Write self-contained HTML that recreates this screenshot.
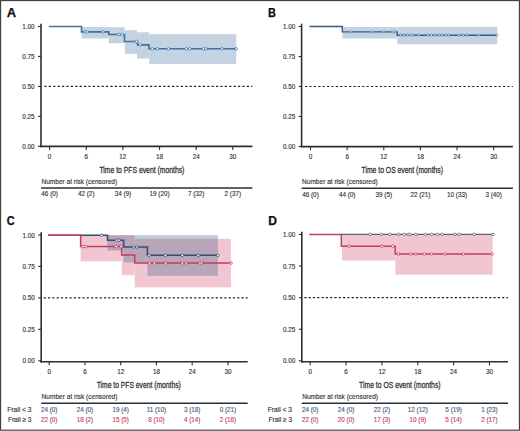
<!DOCTYPE html><html><head><meta charset="utf-8"><style>html,body{margin:0;padding:0;background:#fff}svg{display:block}text{font-family:"Liberation Sans", sans-serif}</style></head><body>
<svg width="520" height="431" viewBox="0 0 520 431">
<rect x="0" y="0" width="520" height="431" fill="#fff"/>
<rect x="81.50" y="27.00" width="27.30" height="11.50" fill="#c4d3e1"/>
<rect x="108.80" y="27.20" width="16.00" height="16.10" fill="#c4d3e1"/>
<rect x="124.80" y="30.20" width="12.20" height="23.60" fill="#c4d3e1"/>
<rect x="137.00" y="32.30" width="12.20" height="26.20" fill="#c4d3e1"/>
<rect x="149.20" y="34.20" width="87.00" height="29.70" fill="#c4d3e1"/>
<path d="M48.80,26.50 H81.50 V31.90 H108.80 V34.50 H124.50 V41.50 H137.50 V44.90 H149.00 V48.80 H236.20" fill="none" stroke="#44709a" stroke-width="1.6" stroke-linejoin="miter"/>
<circle cx="85.00" cy="31.90" r="1.3" fill="#fff" stroke="#44709a" stroke-width="0.75"/>
<circle cx="87.20" cy="31.90" r="1.3" fill="#fff" stroke="#44709a" stroke-width="0.75"/>
<circle cx="103.00" cy="31.90" r="1.3" fill="#fff" stroke="#44709a" stroke-width="0.75"/>
<circle cx="118.70" cy="34.50" r="1.3" fill="#fff" stroke="#44709a" stroke-width="0.75"/>
<circle cx="122.30" cy="34.50" r="1.3" fill="#fff" stroke="#44709a" stroke-width="0.75"/>
<circle cx="136.40" cy="41.50" r="1.3" fill="#fff" stroke="#44709a" stroke-width="0.75"/>
<circle cx="140.20" cy="44.90" r="1.3" fill="#fff" stroke="#44709a" stroke-width="0.75"/>
<circle cx="152.20" cy="48.80" r="1.3" fill="#fff" stroke="#44709a" stroke-width="0.75"/>
<circle cx="157.40" cy="48.80" r="1.3" fill="#fff" stroke="#44709a" stroke-width="0.75"/>
<circle cx="168.40" cy="48.80" r="1.3" fill="#fff" stroke="#44709a" stroke-width="0.75"/>
<circle cx="186.40" cy="48.80" r="1.3" fill="#fff" stroke="#44709a" stroke-width="0.75"/>
<circle cx="189.80" cy="48.80" r="1.3" fill="#fff" stroke="#44709a" stroke-width="0.75"/>
<circle cx="203.30" cy="48.80" r="1.3" fill="#fff" stroke="#44709a" stroke-width="0.75"/>
<circle cx="205.90" cy="48.80" r="1.3" fill="#fff" stroke="#44709a" stroke-width="0.75"/>
<circle cx="222.10" cy="48.80" r="1.3" fill="#fff" stroke="#44709a" stroke-width="0.75"/>
<circle cx="236.20" cy="48.80" r="1.3" fill="#fff" stroke="#44709a" stroke-width="0.75"/>
<text x="6.70" y="16.9" font-size="12" font-weight="bold" fill="#111" stroke="#111" stroke-width="0.25" textLength="9.40" lengthAdjust="spacingAndGlyphs">A</text>
<line x1="41.0" y1="23.70" x2="41.0" y2="147.20" stroke="#2e2e2e" stroke-width="1.6"/>
<line x1="40.20" y1="146.40" x2="252.40" y2="146.40" stroke="#2e2e2e" stroke-width="1.6"/>
<line x1="38.00" y1="26.50" x2="41.0" y2="26.50" stroke="#2e2e2e" stroke-width="1.1"/>
<text x="34.60" y="29.00" font-size="7.2" fill="#333" stroke="#333" stroke-width="0.15" text-anchor="end" textLength="12.30" lengthAdjust="spacingAndGlyphs">1.00</text>
<line x1="38.00" y1="56.45" x2="41.0" y2="56.45" stroke="#2e2e2e" stroke-width="1.1"/>
<text x="34.60" y="58.95" font-size="7.2" fill="#333" stroke="#333" stroke-width="0.15" text-anchor="end" textLength="12.30" lengthAdjust="spacingAndGlyphs">0.75</text>
<line x1="38.00" y1="86.40" x2="41.0" y2="86.40" stroke="#2e2e2e" stroke-width="1.1"/>
<text x="34.60" y="88.90" font-size="7.2" fill="#333" stroke="#333" stroke-width="0.15" text-anchor="end" textLength="12.30" lengthAdjust="spacingAndGlyphs">0.50</text>
<line x1="38.00" y1="116.35" x2="41.0" y2="116.35" stroke="#2e2e2e" stroke-width="1.1"/>
<text x="34.60" y="118.85" font-size="7.2" fill="#333" stroke="#333" stroke-width="0.15" text-anchor="end" textLength="12.30" lengthAdjust="spacingAndGlyphs">0.25</text>
<line x1="38.00" y1="146.30" x2="41.0" y2="146.30" stroke="#2e2e2e" stroke-width="1.1"/>
<text x="34.60" y="148.80" font-size="7.2" fill="#333" stroke="#333" stroke-width="0.15" text-anchor="end" textLength="12.30" lengthAdjust="spacingAndGlyphs">0.00</text>
<line x1="49.60" y1="146.40" x2="49.60" y2="150.00" stroke="#2e2e2e" stroke-width="1.1"/>
<text x="49.60" y="159.00" font-size="7.2" fill="#333" stroke="#333" stroke-width="0.15" text-anchor="middle" textLength="3.51" lengthAdjust="spacingAndGlyphs">0</text>
<line x1="86.24" y1="146.40" x2="86.24" y2="150.00" stroke="#2e2e2e" stroke-width="1.1"/>
<text x="86.24" y="159.00" font-size="7.2" fill="#333" stroke="#333" stroke-width="0.15" text-anchor="middle" textLength="3.51" lengthAdjust="spacingAndGlyphs">6</text>
<line x1="122.88" y1="146.40" x2="122.88" y2="150.00" stroke="#2e2e2e" stroke-width="1.1"/>
<text x="122.88" y="159.00" font-size="7.2" fill="#333" stroke="#333" stroke-width="0.15" text-anchor="middle" textLength="7.03" lengthAdjust="spacingAndGlyphs">12</text>
<line x1="159.53" y1="146.40" x2="159.53" y2="150.00" stroke="#2e2e2e" stroke-width="1.1"/>
<text x="159.53" y="159.00" font-size="7.2" fill="#333" stroke="#333" stroke-width="0.15" text-anchor="middle" textLength="7.03" lengthAdjust="spacingAndGlyphs">18</text>
<line x1="196.17" y1="146.40" x2="196.17" y2="150.00" stroke="#2e2e2e" stroke-width="1.1"/>
<text x="196.17" y="159.00" font-size="7.2" fill="#333" stroke="#333" stroke-width="0.15" text-anchor="middle" textLength="7.03" lengthAdjust="spacingAndGlyphs">24</text>
<line x1="232.81" y1="146.40" x2="232.81" y2="150.00" stroke="#2e2e2e" stroke-width="1.1"/>
<text x="232.81" y="159.00" font-size="7.2" fill="#333" stroke="#333" stroke-width="0.15" text-anchor="middle" textLength="7.03" lengthAdjust="spacingAndGlyphs">30</text>
<line x1="44.40" y1="86.40" x2="252.40" y2="86.40" stroke="#222" stroke-width="1.15" stroke-dasharray="2.2 2.2"/>
<text x="99.40" y="172.90" font-size="9.4" fill="#333" stroke="#333" stroke-width="0.3" textLength="85.00" lengthAdjust="spacingAndGlyphs">Time to PFS event (months)</text>
<text x="41.40" y="184.20" font-size="7.2" fill="#333" stroke="#333" stroke-width="0.15" textLength="75.80" lengthAdjust="spacingAndGlyphs">Number at risk (censored)</text>
<line x1="41.00" y1="188.00" x2="252.40" y2="188.00" stroke="#2e2e2e" stroke-width="1.4"/>
<text x="49.60" y="196.30" font-size="7.2" fill="#333" stroke="#333" stroke-width="0.15" text-anchor="middle" textLength="16.51" lengthAdjust="spacingAndGlyphs">46 (0)</text>
<text x="86.24" y="196.30" font-size="7.2" fill="#333" stroke="#333" stroke-width="0.15" text-anchor="middle" textLength="16.51" lengthAdjust="spacingAndGlyphs">42 (2)</text>
<text x="122.88" y="196.30" font-size="7.2" fill="#333" stroke="#333" stroke-width="0.15" text-anchor="middle" textLength="16.51" lengthAdjust="spacingAndGlyphs">34 (9)</text>
<text x="159.53" y="196.30" font-size="7.2" fill="#333" stroke="#333" stroke-width="0.15" text-anchor="middle" textLength="20.02" lengthAdjust="spacingAndGlyphs">19 (20)</text>
<text x="196.17" y="196.30" font-size="7.2" fill="#333" stroke="#333" stroke-width="0.15" text-anchor="middle" textLength="16.51" lengthAdjust="spacingAndGlyphs">7 (32)</text>
<text x="232.81" y="196.30" font-size="7.2" fill="#333" stroke="#333" stroke-width="0.15" text-anchor="middle" textLength="16.51" lengthAdjust="spacingAndGlyphs">2 (37)</text>
<rect x="342.40" y="27.00" width="54.90" height="11.50" fill="#c4d3e1"/>
<rect x="397.30" y="27.00" width="100.00" height="17.30" fill="#c4d3e1"/>
<path d="M309.40,26.50 H342.30 V31.90 H397.30 V35.20 H497.00" fill="none" stroke="#375c84" stroke-width="1.35" stroke-linejoin="miter"/>
<circle cx="350.80" cy="31.90" r="1.15" fill="#fff" stroke="#44709a" stroke-width="0.7"/>
<circle cx="371.70" cy="31.90" r="1.15" fill="#fff" stroke="#44709a" stroke-width="0.7"/>
<circle cx="383.80" cy="31.90" r="1.15" fill="#fff" stroke="#44709a" stroke-width="0.7"/>
<circle cx="392.30" cy="31.90" r="1.15" fill="#fff" stroke="#44709a" stroke-width="0.7"/>
<circle cx="395.00" cy="31.90" r="1.15" fill="#fff" stroke="#44709a" stroke-width="0.7"/>
<circle cx="400.80" cy="35.20" r="1.1" fill="#fff" stroke="#44709a" stroke-width="0.7"/>
<circle cx="403.90" cy="35.20" r="1.1" fill="#fff" stroke="#44709a" stroke-width="0.7"/>
<circle cx="407.10" cy="35.20" r="1.1" fill="#fff" stroke="#44709a" stroke-width="0.7"/>
<circle cx="410.30" cy="35.20" r="1.1" fill="#fff" stroke="#44709a" stroke-width="0.7"/>
<circle cx="413.00" cy="35.20" r="1.1" fill="#fff" stroke="#44709a" stroke-width="0.7"/>
<circle cx="418.50" cy="35.20" r="1.1" fill="#fff" stroke="#44709a" stroke-width="0.7"/>
<circle cx="428.10" cy="35.20" r="1.1" fill="#fff" stroke="#44709a" stroke-width="0.7"/>
<circle cx="431.50" cy="35.20" r="1.1" fill="#fff" stroke="#44709a" stroke-width="0.7"/>
<circle cx="435.30" cy="35.20" r="1.1" fill="#fff" stroke="#44709a" stroke-width="0.7"/>
<circle cx="439.00" cy="35.20" r="1.1" fill="#fff" stroke="#44709a" stroke-width="0.7"/>
<circle cx="442.00" cy="35.20" r="1.1" fill="#fff" stroke="#44709a" stroke-width="0.7"/>
<circle cx="445.40" cy="35.20" r="1.1" fill="#fff" stroke="#44709a" stroke-width="0.7"/>
<circle cx="448.30" cy="35.20" r="1.1" fill="#fff" stroke="#44709a" stroke-width="0.7"/>
<circle cx="459.20" cy="35.20" r="1.1" fill="#fff" stroke="#44709a" stroke-width="0.7"/>
<circle cx="463.30" cy="35.20" r="1.1" fill="#fff" stroke="#44709a" stroke-width="0.7"/>
<circle cx="467.30" cy="35.20" r="1.1" fill="#fff" stroke="#44709a" stroke-width="0.7"/>
<circle cx="478.30" cy="35.20" r="1.1" fill="#fff" stroke="#44709a" stroke-width="0.7"/>
<circle cx="496.80" cy="35.20" r="1.1" fill="#fff" stroke="#44709a" stroke-width="0.7"/>
<text x="268.00" y="16.8" font-size="12" font-weight="bold" fill="#111" stroke="#111" stroke-width="0.25" textLength="7.90" lengthAdjust="spacingAndGlyphs">B</text>
<line x1="301.6" y1="23.70" x2="301.6" y2="147.40" stroke="#2e2e2e" stroke-width="1.6"/>
<line x1="300.80" y1="146.60" x2="512.90" y2="146.60" stroke="#2e2e2e" stroke-width="1.6"/>
<line x1="298.60" y1="26.50" x2="301.6" y2="26.50" stroke="#2e2e2e" stroke-width="1.1"/>
<text x="295.20" y="29.00" font-size="7.2" fill="#333" stroke="#333" stroke-width="0.15" text-anchor="end" textLength="12.30" lengthAdjust="spacingAndGlyphs">1.00</text>
<line x1="298.60" y1="56.50" x2="301.6" y2="56.50" stroke="#2e2e2e" stroke-width="1.1"/>
<text x="295.20" y="59.00" font-size="7.2" fill="#333" stroke="#333" stroke-width="0.15" text-anchor="end" textLength="12.30" lengthAdjust="spacingAndGlyphs">0.75</text>
<line x1="298.60" y1="86.50" x2="301.6" y2="86.50" stroke="#2e2e2e" stroke-width="1.1"/>
<text x="295.20" y="89.00" font-size="7.2" fill="#333" stroke="#333" stroke-width="0.15" text-anchor="end" textLength="12.30" lengthAdjust="spacingAndGlyphs">0.50</text>
<line x1="298.60" y1="116.50" x2="301.6" y2="116.50" stroke="#2e2e2e" stroke-width="1.1"/>
<text x="295.20" y="119.00" font-size="7.2" fill="#333" stroke="#333" stroke-width="0.15" text-anchor="end" textLength="12.30" lengthAdjust="spacingAndGlyphs">0.25</text>
<line x1="298.60" y1="146.50" x2="301.6" y2="146.50" stroke="#2e2e2e" stroke-width="1.1"/>
<text x="295.20" y="149.00" font-size="7.2" fill="#333" stroke="#333" stroke-width="0.15" text-anchor="end" textLength="12.30" lengthAdjust="spacingAndGlyphs">0.00</text>
<line x1="310.50" y1="146.60" x2="310.50" y2="150.20" stroke="#2e2e2e" stroke-width="1.1"/>
<text x="310.50" y="159.20" font-size="7.2" fill="#333" stroke="#333" stroke-width="0.15" text-anchor="middle" textLength="3.51" lengthAdjust="spacingAndGlyphs">0</text>
<line x1="347.14" y1="146.60" x2="347.14" y2="150.20" stroke="#2e2e2e" stroke-width="1.1"/>
<text x="347.14" y="159.20" font-size="7.2" fill="#333" stroke="#333" stroke-width="0.15" text-anchor="middle" textLength="3.51" lengthAdjust="spacingAndGlyphs">6</text>
<line x1="383.78" y1="146.60" x2="383.78" y2="150.20" stroke="#2e2e2e" stroke-width="1.1"/>
<text x="383.78" y="159.20" font-size="7.2" fill="#333" stroke="#333" stroke-width="0.15" text-anchor="middle" textLength="7.03" lengthAdjust="spacingAndGlyphs">12</text>
<line x1="420.43" y1="146.60" x2="420.43" y2="150.20" stroke="#2e2e2e" stroke-width="1.1"/>
<text x="420.43" y="159.20" font-size="7.2" fill="#333" stroke="#333" stroke-width="0.15" text-anchor="middle" textLength="7.03" lengthAdjust="spacingAndGlyphs">18</text>
<line x1="457.07" y1="146.60" x2="457.07" y2="150.20" stroke="#2e2e2e" stroke-width="1.1"/>
<text x="457.07" y="159.20" font-size="7.2" fill="#333" stroke="#333" stroke-width="0.15" text-anchor="middle" textLength="7.03" lengthAdjust="spacingAndGlyphs">24</text>
<line x1="493.71" y1="146.60" x2="493.71" y2="150.20" stroke="#2e2e2e" stroke-width="1.1"/>
<text x="493.71" y="159.20" font-size="7.2" fill="#333" stroke="#333" stroke-width="0.15" text-anchor="middle" textLength="7.03" lengthAdjust="spacingAndGlyphs">30</text>
<line x1="305.00" y1="86.50" x2="512.90" y2="86.50" stroke="#222" stroke-width="1.15" stroke-dasharray="2.2 2.2"/>
<text x="361.50" y="172.70" font-size="9.4" fill="#333" stroke="#333" stroke-width="0.3" textLength="81.50" lengthAdjust="spacingAndGlyphs">Time to OS event (months)</text>
<text x="302.00" y="184.40" font-size="7.2" fill="#333" stroke="#333" stroke-width="0.15" textLength="75.80" lengthAdjust="spacingAndGlyphs">Number at risk (censored)</text>
<line x1="301.60" y1="188.20" x2="512.90" y2="188.20" stroke="#2e2e2e" stroke-width="1.4"/>
<text x="310.50" y="196.50" font-size="7.2" fill="#333" stroke="#333" stroke-width="0.15" text-anchor="middle" textLength="16.51" lengthAdjust="spacingAndGlyphs">46 (0)</text>
<text x="347.14" y="196.50" font-size="7.2" fill="#333" stroke="#333" stroke-width="0.15" text-anchor="middle" textLength="16.51" lengthAdjust="spacingAndGlyphs">44 (0)</text>
<text x="383.78" y="196.50" font-size="7.2" fill="#333" stroke="#333" stroke-width="0.15" text-anchor="middle" textLength="16.51" lengthAdjust="spacingAndGlyphs">39 (5)</text>
<text x="420.43" y="196.50" font-size="7.2" fill="#333" stroke="#333" stroke-width="0.15" text-anchor="middle" textLength="20.02" lengthAdjust="spacingAndGlyphs">22 (21)</text>
<text x="457.07" y="196.50" font-size="7.2" fill="#333" stroke="#333" stroke-width="0.15" text-anchor="middle" textLength="20.02" lengthAdjust="spacingAndGlyphs">10 (33)</text>
<text x="493.71" y="196.50" font-size="7.2" fill="#333" stroke="#333" stroke-width="0.15" text-anchor="middle" textLength="16.51" lengthAdjust="spacingAndGlyphs">3 (40)</text>
<rect x="80.60" y="235.20" width="41.10" height="26.10" fill="#f1c6d0"/>
<rect x="121.70" y="235.20" width="13.00" height="40.00" fill="#f1c6d0"/>
<rect x="134.70" y="238.80" width="96.30" height="48.60" fill="#f1c6d0"/>
<rect x="107.50" y="235.20" width="16.10" height="15.30" fill="rgba(72,102,140,0.34)"/>
<rect x="123.60" y="235.20" width="23.80" height="27.30" fill="rgba(72,102,140,0.34)"/>
<rect x="147.40" y="235.20" width="70.50" height="40.60" fill="rgba(72,102,140,0.34)"/>
<path d="M48.00,235.20 H107.50 V240.20 H123.60 V247.00 H147.40 V255.30 H217.90" fill="none" stroke="#3b4d6e" stroke-width="1.6" stroke-linejoin="miter"/>
<circle cx="101.50" cy="235.20" r="1.3" fill="#fff" stroke="#3b4d6e" stroke-width="0.75"/>
<circle cx="116.60" cy="240.20" r="1.3" fill="#fff" stroke="#3b4d6e" stroke-width="0.75"/>
<circle cx="118.90" cy="240.20" r="1.3" fill="#fff" stroke="#3b4d6e" stroke-width="0.75"/>
<circle cx="133.80" cy="247.00" r="1.3" fill="#fff" stroke="#3b4d6e" stroke-width="0.75"/>
<circle cx="137.00" cy="247.00" r="1.3" fill="#fff" stroke="#3b4d6e" stroke-width="0.75"/>
<circle cx="149.10" cy="255.30" r="1.3" fill="#fff" stroke="#3b4d6e" stroke-width="0.75"/>
<circle cx="165.40" cy="255.30" r="1.3" fill="#fff" stroke="#3b4d6e" stroke-width="0.75"/>
<circle cx="182.30" cy="255.30" r="1.3" fill="#fff" stroke="#3b4d6e" stroke-width="0.75"/>
<circle cx="198.20" cy="255.30" r="1.3" fill="#fff" stroke="#3b4d6e" stroke-width="0.75"/>
<circle cx="217.90" cy="255.30" r="1.3" fill="#fff" stroke="#3b4d6e" stroke-width="0.75"/>
<path d="M48.00,235.20 H80.60 V246.60 H121.70 V254.90 H134.70 V263.00 H231.00" fill="none" stroke="#c23c5e" stroke-width="1.5" stroke-linejoin="miter"/>
<circle cx="83.00" cy="246.60" r="1.3" fill="#fff" stroke="#c83a5c" stroke-width="0.75"/>
<circle cx="85.90" cy="246.60" r="1.3" fill="#fff" stroke="#c83a5c" stroke-width="0.75"/>
<circle cx="116.10" cy="246.60" r="1.3" fill="#fff" stroke="#c83a5c" stroke-width="0.75"/>
<circle cx="121.20" cy="246.60" r="1.3" fill="#fff" stroke="#c83a5c" stroke-width="0.75"/>
<circle cx="149.50" cy="263.00" r="1.3" fill="#fff" stroke="#c83a5c" stroke-width="0.75"/>
<circle cx="154.40" cy="263.00" r="1.3" fill="#fff" stroke="#c83a5c" stroke-width="0.75"/>
<circle cx="165.80" cy="263.00" r="1.3" fill="#fff" stroke="#c83a5c" stroke-width="0.75"/>
<circle cx="182.30" cy="263.00" r="1.3" fill="#fff" stroke="#c83a5c" stroke-width="0.75"/>
<circle cx="186.10" cy="263.00" r="1.3" fill="#fff" stroke="#c83a5c" stroke-width="0.75"/>
<circle cx="199.70" cy="263.00" r="1.3" fill="#fff" stroke="#c83a5c" stroke-width="0.75"/>
<circle cx="201.30" cy="263.00" r="1.3" fill="#fff" stroke="#c83a5c" stroke-width="0.75"/>
<circle cx="231.00" cy="263.00" r="1.3" fill="#fff" stroke="#c83a5c" stroke-width="0.75"/>
<text x="6.70" y="225.0" font-size="12" font-weight="bold" fill="#111" stroke="#111" stroke-width="0.25" textLength="7.90" lengthAdjust="spacingAndGlyphs">C</text>
<line x1="41.2" y1="232.20" x2="41.2" y2="362.55" stroke="#2e2e2e" stroke-width="1.6"/>
<line x1="40.40" y1="361.75" x2="247.70" y2="361.75" stroke="#2e2e2e" stroke-width="1.6"/>
<line x1="38.20" y1="235.00" x2="41.2" y2="235.00" stroke="#2e2e2e" stroke-width="1.1"/>
<text x="34.80" y="237.50" font-size="7.2" fill="#333" stroke="#333" stroke-width="0.15" text-anchor="end" textLength="12.30" lengthAdjust="spacingAndGlyphs">1.00</text>
<line x1="38.20" y1="266.45" x2="41.2" y2="266.45" stroke="#2e2e2e" stroke-width="1.1"/>
<text x="34.80" y="268.95" font-size="7.2" fill="#333" stroke="#333" stroke-width="0.15" text-anchor="end" textLength="12.30" lengthAdjust="spacingAndGlyphs">0.75</text>
<line x1="38.20" y1="297.90" x2="41.2" y2="297.90" stroke="#2e2e2e" stroke-width="1.1"/>
<text x="34.80" y="300.40" font-size="7.2" fill="#333" stroke="#333" stroke-width="0.15" text-anchor="end" textLength="12.30" lengthAdjust="spacingAndGlyphs">0.50</text>
<line x1="38.20" y1="329.35" x2="41.2" y2="329.35" stroke="#2e2e2e" stroke-width="1.1"/>
<text x="34.80" y="331.85" font-size="7.2" fill="#333" stroke="#333" stroke-width="0.15" text-anchor="end" textLength="12.30" lengthAdjust="spacingAndGlyphs">0.25</text>
<line x1="38.20" y1="360.80" x2="41.2" y2="360.80" stroke="#2e2e2e" stroke-width="1.1"/>
<text x="34.80" y="363.30" font-size="7.2" fill="#333" stroke="#333" stroke-width="0.15" text-anchor="end" textLength="12.30" lengthAdjust="spacingAndGlyphs">0.00</text>
<line x1="49.20" y1="361.75" x2="49.20" y2="365.35" stroke="#2e2e2e" stroke-width="1.1"/>
<text x="49.20" y="374.40" font-size="7.2" fill="#333" stroke="#333" stroke-width="0.15" text-anchor="middle" textLength="3.51" lengthAdjust="spacingAndGlyphs">0</text>
<line x1="84.95" y1="361.75" x2="84.95" y2="365.35" stroke="#2e2e2e" stroke-width="1.1"/>
<text x="84.95" y="374.40" font-size="7.2" fill="#333" stroke="#333" stroke-width="0.15" text-anchor="middle" textLength="3.51" lengthAdjust="spacingAndGlyphs">6</text>
<line x1="120.70" y1="361.75" x2="120.70" y2="365.35" stroke="#2e2e2e" stroke-width="1.1"/>
<text x="120.70" y="374.40" font-size="7.2" fill="#333" stroke="#333" stroke-width="0.15" text-anchor="middle" textLength="7.03" lengthAdjust="spacingAndGlyphs">12</text>
<line x1="156.44" y1="361.75" x2="156.44" y2="365.35" stroke="#2e2e2e" stroke-width="1.1"/>
<text x="156.44" y="374.40" font-size="7.2" fill="#333" stroke="#333" stroke-width="0.15" text-anchor="middle" textLength="7.03" lengthAdjust="spacingAndGlyphs">18</text>
<line x1="192.19" y1="361.75" x2="192.19" y2="365.35" stroke="#2e2e2e" stroke-width="1.1"/>
<text x="192.19" y="374.40" font-size="7.2" fill="#333" stroke="#333" stroke-width="0.15" text-anchor="middle" textLength="7.03" lengthAdjust="spacingAndGlyphs">24</text>
<line x1="227.94" y1="361.75" x2="227.94" y2="365.35" stroke="#2e2e2e" stroke-width="1.1"/>
<text x="227.94" y="374.40" font-size="7.2" fill="#333" stroke="#333" stroke-width="0.15" text-anchor="middle" textLength="7.03" lengthAdjust="spacingAndGlyphs">30</text>
<line x1="43.70" y1="297.90" x2="247.70" y2="297.90" stroke="#222" stroke-width="1.3" stroke-dasharray="2.2 2.1"/>
<text x="96.70" y="387.70" font-size="9.4" fill="#333" stroke="#333" stroke-width="0.3" textLength="84.10" lengthAdjust="spacingAndGlyphs">Time to PFS event (months)</text>
<text x="41.60" y="398.50" font-size="7.2" fill="#333" stroke="#333" stroke-width="0.15" textLength="75.80" lengthAdjust="spacingAndGlyphs">Number at risk (censored)</text>
<line x1="41.20" y1="403.30" x2="247.70" y2="403.30" stroke="#2e2e2e" stroke-width="1.4"/>
<text x="49.20" y="412.30" font-size="7.2" fill="#3d5a82" stroke="#3d5a82" stroke-width="0.15" text-anchor="middle" textLength="16.51" lengthAdjust="spacingAndGlyphs">24 (0)</text>
<text x="84.95" y="412.30" font-size="7.2" fill="#3d5a82" stroke="#3d5a82" stroke-width="0.15" text-anchor="middle" textLength="16.51" lengthAdjust="spacingAndGlyphs">24 (0)</text>
<text x="120.70" y="412.30" font-size="7.2" fill="#3d5a82" stroke="#3d5a82" stroke-width="0.15" text-anchor="middle" textLength="16.51" lengthAdjust="spacingAndGlyphs">19 (4)</text>
<text x="156.44" y="412.30" font-size="7.2" fill="#3d5a82" stroke="#3d5a82" stroke-width="0.15" text-anchor="middle" textLength="19.55" lengthAdjust="spacingAndGlyphs">11 (10)</text>
<text x="192.19" y="412.30" font-size="7.2" fill="#3d5a82" stroke="#3d5a82" stroke-width="0.15" text-anchor="middle" textLength="16.51" lengthAdjust="spacingAndGlyphs">3 (18)</text>
<text x="227.94" y="412.30" font-size="7.2" fill="#3d5a82" stroke="#3d5a82" stroke-width="0.15" text-anchor="middle" textLength="16.51" lengthAdjust="spacingAndGlyphs">0 (21)</text>
<text x="49.20" y="422.30" font-size="7.2" fill="#c2405f" stroke="#c2405f" stroke-width="0.15" text-anchor="middle" textLength="16.51" lengthAdjust="spacingAndGlyphs">22 (0)</text>
<text x="84.95" y="422.30" font-size="7.2" fill="#c2405f" stroke="#c2405f" stroke-width="0.15" text-anchor="middle" textLength="16.51" lengthAdjust="spacingAndGlyphs">18 (2)</text>
<text x="120.70" y="422.30" font-size="7.2" fill="#c2405f" stroke="#c2405f" stroke-width="0.15" text-anchor="middle" textLength="16.51" lengthAdjust="spacingAndGlyphs">15 (5)</text>
<text x="156.44" y="422.30" font-size="7.2" fill="#c2405f" stroke="#c2405f" stroke-width="0.15" text-anchor="middle" textLength="16.51" lengthAdjust="spacingAndGlyphs">8 (10)</text>
<text x="192.19" y="422.30" font-size="7.2" fill="#c2405f" stroke="#c2405f" stroke-width="0.15" text-anchor="middle" textLength="16.51" lengthAdjust="spacingAndGlyphs">4 (14)</text>
<text x="227.94" y="422.30" font-size="7.2" fill="#c2405f" stroke="#c2405f" stroke-width="0.15" text-anchor="middle" textLength="16.51" lengthAdjust="spacingAndGlyphs">2 (16)</text>
<text x="31.40" y="412.30" font-size="7.2" fill="#333" stroke="#333" stroke-width="0.15" text-anchor="end" textLength="24.20" lengthAdjust="spacingAndGlyphs">Frail &lt; 3</text>
<text x="31.40" y="422.30" font-size="7.2" fill="#333" stroke="#333" stroke-width="0.15" text-anchor="end" textLength="23.40" lengthAdjust="spacingAndGlyphs">Frail ≥ 3</text>
<rect x="342.00" y="234.40" width="53.30" height="26.10" fill="#f1c6d0"/>
<rect x="395.30" y="234.40" width="97.40" height="40.30" fill="#f1c6d0"/>
<path d="M309.20,234.40 H341.30 V246.20 H395.20 V254.00 H492.30" fill="none" stroke="#bf3f5e" stroke-width="1.45" stroke-linejoin="miter"/>
<circle cx="349.10" cy="246.20" r="1.3" fill="#fff" stroke="#c83a5c" stroke-width="0.75"/>
<circle cx="382.10" cy="246.20" r="1.3" fill="#fff" stroke="#c83a5c" stroke-width="0.75"/>
<circle cx="392.70" cy="246.20" r="1.3" fill="#fff" stroke="#c83a5c" stroke-width="0.75"/>
<circle cx="398.40" cy="254.00" r="1.3" fill="#fff" stroke="#c83a5c" stroke-width="0.75"/>
<circle cx="410.60" cy="254.00" r="1.3" fill="#fff" stroke="#c83a5c" stroke-width="0.75"/>
<circle cx="415.90" cy="254.00" r="1.3" fill="#fff" stroke="#c83a5c" stroke-width="0.75"/>
<circle cx="424.30" cy="254.00" r="1.3" fill="#fff" stroke="#c83a5c" stroke-width="0.75"/>
<circle cx="431.70" cy="254.00" r="1.3" fill="#fff" stroke="#c83a5c" stroke-width="0.75"/>
<circle cx="444.80" cy="254.00" r="1.3" fill="#fff" stroke="#c83a5c" stroke-width="0.75"/>
<circle cx="463.50" cy="254.00" r="1.3" fill="#fff" stroke="#c83a5c" stroke-width="0.75"/>
<circle cx="492.00" cy="254.00" r="1.3" fill="#fff" stroke="#c83a5c" stroke-width="0.75"/>
<path d="M341.3,234.4 H493" fill="none" stroke="#56607c" stroke-width="1.4"/>
<circle cx="370.20" cy="234.40" r="1.3" fill="#fff" stroke="#56607c" stroke-width="0.75"/>
<circle cx="381.40" cy="234.40" r="1.3" fill="#fff" stroke="#56607c" stroke-width="0.75"/>
<circle cx="389.90" cy="234.40" r="1.3" fill="#fff" stroke="#56607c" stroke-width="0.75"/>
<circle cx="398.40" cy="234.40" r="1.3" fill="#fff" stroke="#56607c" stroke-width="0.75"/>
<circle cx="404.40" cy="234.40" r="1.3" fill="#fff" stroke="#56607c" stroke-width="0.75"/>
<circle cx="408.50" cy="234.40" r="1.3" fill="#fff" stroke="#56607c" stroke-width="0.75"/>
<circle cx="410.20" cy="234.40" r="1.3" fill="#fff" stroke="#56607c" stroke-width="0.75"/>
<circle cx="415.90" cy="234.40" r="1.3" fill="#fff" stroke="#56607c" stroke-width="0.75"/>
<circle cx="425.40" cy="234.40" r="1.3" fill="#fff" stroke="#56607c" stroke-width="0.75"/>
<circle cx="431.70" cy="234.40" r="1.3" fill="#fff" stroke="#56607c" stroke-width="0.75"/>
<circle cx="437.70" cy="234.40" r="1.3" fill="#fff" stroke="#56607c" stroke-width="0.75"/>
<circle cx="442.30" cy="234.40" r="1.3" fill="#fff" stroke="#56607c" stroke-width="0.75"/>
<circle cx="455.00" cy="234.40" r="1.3" fill="#fff" stroke="#56607c" stroke-width="0.75"/>
<circle cx="459.20" cy="234.40" r="1.3" fill="#fff" stroke="#56607c" stroke-width="0.75"/>
<circle cx="474.00" cy="234.40" r="1.3" fill="#fff" stroke="#56607c" stroke-width="0.75"/>
<circle cx="493.00" cy="234.40" r="1.3" fill="#fff" stroke="#56607c" stroke-width="0.75"/>
<text x="268.30" y="225.0" font-size="12" font-weight="bold" fill="#111" stroke="#111" stroke-width="0.25" textLength="8.70" lengthAdjust="spacingAndGlyphs">D</text>
<line x1="301.8" y1="231.70" x2="301.8" y2="362.55" stroke="#2e2e2e" stroke-width="1.6"/>
<line x1="301.00" y1="361.75" x2="508.00" y2="361.75" stroke="#2e2e2e" stroke-width="1.6"/>
<line x1="298.80" y1="234.50" x2="301.8" y2="234.50" stroke="#2e2e2e" stroke-width="1.1"/>
<text x="295.40" y="237.00" font-size="7.2" fill="#333" stroke="#333" stroke-width="0.15" text-anchor="end" textLength="12.30" lengthAdjust="spacingAndGlyphs">1.00</text>
<line x1="298.80" y1="266.07" x2="301.8" y2="266.07" stroke="#2e2e2e" stroke-width="1.1"/>
<text x="295.40" y="268.57" font-size="7.2" fill="#333" stroke="#333" stroke-width="0.15" text-anchor="end" textLength="12.30" lengthAdjust="spacingAndGlyphs">0.75</text>
<line x1="298.80" y1="297.65" x2="301.8" y2="297.65" stroke="#2e2e2e" stroke-width="1.1"/>
<text x="295.40" y="300.15" font-size="7.2" fill="#333" stroke="#333" stroke-width="0.15" text-anchor="end" textLength="12.30" lengthAdjust="spacingAndGlyphs">0.50</text>
<line x1="298.80" y1="329.23" x2="301.8" y2="329.23" stroke="#2e2e2e" stroke-width="1.1"/>
<text x="295.40" y="331.73" font-size="7.2" fill="#333" stroke="#333" stroke-width="0.15" text-anchor="end" textLength="12.30" lengthAdjust="spacingAndGlyphs">0.25</text>
<line x1="298.80" y1="360.80" x2="301.8" y2="360.80" stroke="#2e2e2e" stroke-width="1.1"/>
<text x="295.40" y="363.30" font-size="7.2" fill="#333" stroke="#333" stroke-width="0.15" text-anchor="end" textLength="12.30" lengthAdjust="spacingAndGlyphs">0.00</text>
<line x1="310.20" y1="361.75" x2="310.20" y2="365.35" stroke="#2e2e2e" stroke-width="1.1"/>
<text x="310.20" y="374.40" font-size="7.2" fill="#333" stroke="#333" stroke-width="0.15" text-anchor="middle" textLength="3.51" lengthAdjust="spacingAndGlyphs">0</text>
<line x1="346.06" y1="361.75" x2="346.06" y2="365.35" stroke="#2e2e2e" stroke-width="1.1"/>
<text x="346.06" y="374.40" font-size="7.2" fill="#333" stroke="#333" stroke-width="0.15" text-anchor="middle" textLength="3.51" lengthAdjust="spacingAndGlyphs">6</text>
<line x1="381.91" y1="361.75" x2="381.91" y2="365.35" stroke="#2e2e2e" stroke-width="1.1"/>
<text x="381.91" y="374.40" font-size="7.2" fill="#333" stroke="#333" stroke-width="0.15" text-anchor="middle" textLength="7.03" lengthAdjust="spacingAndGlyphs">12</text>
<line x1="417.77" y1="361.75" x2="417.77" y2="365.35" stroke="#2e2e2e" stroke-width="1.1"/>
<text x="417.77" y="374.40" font-size="7.2" fill="#333" stroke="#333" stroke-width="0.15" text-anchor="middle" textLength="7.03" lengthAdjust="spacingAndGlyphs">18</text>
<line x1="453.62" y1="361.75" x2="453.62" y2="365.35" stroke="#2e2e2e" stroke-width="1.1"/>
<text x="453.62" y="374.40" font-size="7.2" fill="#333" stroke="#333" stroke-width="0.15" text-anchor="middle" textLength="7.03" lengthAdjust="spacingAndGlyphs">24</text>
<line x1="489.48" y1="361.75" x2="489.48" y2="365.35" stroke="#2e2e2e" stroke-width="1.1"/>
<text x="489.48" y="374.40" font-size="7.2" fill="#333" stroke="#333" stroke-width="0.15" text-anchor="middle" textLength="7.03" lengthAdjust="spacingAndGlyphs">30</text>
<line x1="304.30" y1="297.65" x2="508.00" y2="297.65" stroke="#222" stroke-width="1.3" stroke-dasharray="2.2 2.1"/>
<text x="359.10" y="387.70" font-size="9.4" fill="#333" stroke="#333" stroke-width="0.3" textLength="81.50" lengthAdjust="spacingAndGlyphs">Time to OS event (months)</text>
<text x="302.20" y="398.50" font-size="7.2" fill="#333" stroke="#333" stroke-width="0.15" textLength="75.80" lengthAdjust="spacingAndGlyphs">Number at risk (censored)</text>
<line x1="301.80" y1="403.30" x2="508.00" y2="403.30" stroke="#2e2e2e" stroke-width="1.4"/>
<text x="310.20" y="412.30" font-size="7.2" fill="#3d5a82" stroke="#3d5a82" stroke-width="0.15" text-anchor="middle" textLength="16.51" lengthAdjust="spacingAndGlyphs">24 (0)</text>
<text x="346.06" y="412.30" font-size="7.2" fill="#3d5a82" stroke="#3d5a82" stroke-width="0.15" text-anchor="middle" textLength="16.51" lengthAdjust="spacingAndGlyphs">24 (0)</text>
<text x="381.91" y="412.30" font-size="7.2" fill="#3d5a82" stroke="#3d5a82" stroke-width="0.15" text-anchor="middle" textLength="16.51" lengthAdjust="spacingAndGlyphs">22 (2)</text>
<text x="417.77" y="412.30" font-size="7.2" fill="#3d5a82" stroke="#3d5a82" stroke-width="0.15" text-anchor="middle" textLength="20.02" lengthAdjust="spacingAndGlyphs">12 (12)</text>
<text x="453.62" y="412.30" font-size="7.2" fill="#3d5a82" stroke="#3d5a82" stroke-width="0.15" text-anchor="middle" textLength="16.51" lengthAdjust="spacingAndGlyphs">5 (19)</text>
<text x="489.48" y="412.30" font-size="7.2" fill="#3d5a82" stroke="#3d5a82" stroke-width="0.15" text-anchor="middle" textLength="16.51" lengthAdjust="spacingAndGlyphs">1 (23)</text>
<text x="310.20" y="422.30" font-size="7.2" fill="#c2405f" stroke="#c2405f" stroke-width="0.15" text-anchor="middle" textLength="16.51" lengthAdjust="spacingAndGlyphs">22 (0)</text>
<text x="346.06" y="422.30" font-size="7.2" fill="#c2405f" stroke="#c2405f" stroke-width="0.15" text-anchor="middle" textLength="16.51" lengthAdjust="spacingAndGlyphs">20 (0)</text>
<text x="381.91" y="422.30" font-size="7.2" fill="#c2405f" stroke="#c2405f" stroke-width="0.15" text-anchor="middle" textLength="16.51" lengthAdjust="spacingAndGlyphs">17 (3)</text>
<text x="417.77" y="422.30" font-size="7.2" fill="#c2405f" stroke="#c2405f" stroke-width="0.15" text-anchor="middle" textLength="16.51" lengthAdjust="spacingAndGlyphs">10 (9)</text>
<text x="453.62" y="422.30" font-size="7.2" fill="#c2405f" stroke="#c2405f" stroke-width="0.15" text-anchor="middle" textLength="16.51" lengthAdjust="spacingAndGlyphs">5 (14)</text>
<text x="489.48" y="422.30" font-size="7.2" fill="#c2405f" stroke="#c2405f" stroke-width="0.15" text-anchor="middle" textLength="16.51" lengthAdjust="spacingAndGlyphs">2 (17)</text>
<text x="292.00" y="412.30" font-size="7.2" fill="#333" stroke="#333" stroke-width="0.15" text-anchor="end" textLength="24.20" lengthAdjust="spacingAndGlyphs">Frail &lt; 3</text>
<text x="292.00" y="422.30" font-size="7.2" fill="#333" stroke="#333" stroke-width="0.15" text-anchor="end" textLength="23.40" lengthAdjust="spacingAndGlyphs">Frail ≥ 3</text>
<rect x="0.6" y="0.6" width="518.8" height="429.6" fill="none" stroke="#3a3a3a" stroke-width="1.1"/>
</svg></body></html>
